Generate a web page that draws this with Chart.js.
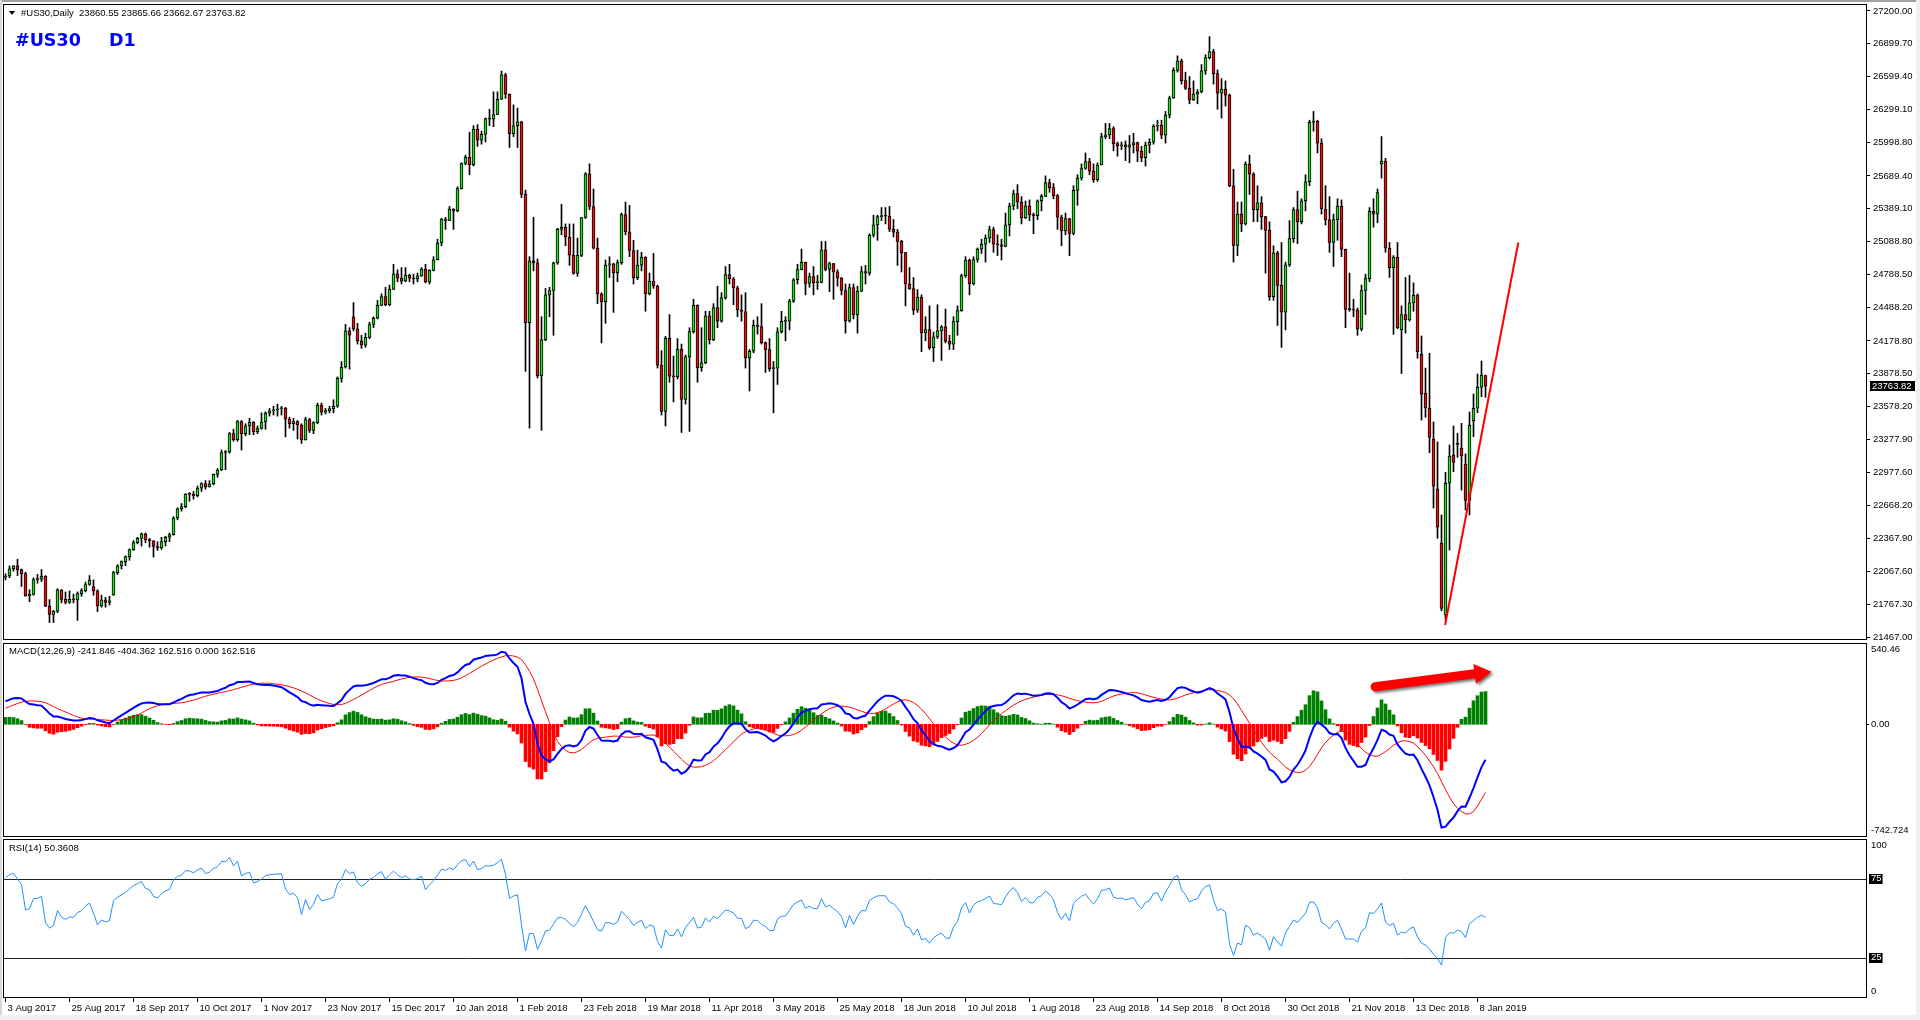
<!DOCTYPE html>
<html><head><meta charset="utf-8">
<script src="https://cdn.jsdelivr.net/npm/chart.js@4.4.1/dist/chart.umd.min.js"></script>
<style>
html,body{margin:0;padding:0;background:#fff;}
#wrap{position:relative;width:1920px;height:1020px;overflow:hidden;background:#fff;}
canvas{position:absolute;left:0;top:0;}
.t{position:absolute;font-family:"Liberation Sans",Arial,sans-serif;font-size:9.5px;line-height:11px;color:#000;white-space:pre;}
.big{position:absolute;font-family:"DejaVu Sans",sans-serif;font-weight:bold;font-size:17.5px;line-height:20px;color:#0000FF;white-space:pre;}
.tri{position:absolute;left:9px;top:11px;width:0;height:0;border-left:3px solid transparent;border-right:3px solid transparent;border-top:4px solid #000;}
.gt{position:absolute;left:0;top:0;width:1920px;height:2px;background:#A0A0A0;}
.gl{position:absolute;left:0;top:0;width:2px;height:1020px;background:#D8D8D8;}
.gb{position:absolute;left:0;top:1015px;width:1920px;height:5px;background:#F0F0F0;}
.gr{position:absolute;left:1916px;top:0;width:4px;height:1020px;background:#F0F0F0;}
</style></head><body><div id="wrap">
<canvas id="cMain" width="1920" height="1020"></canvas>
<canvas id="cMacd" width="1920" height="1020"></canvas>
<canvas id="cRsi" width="1920" height="1020"></canvas>
<div class="gt"></div><div class="gl"></div><div class="gb"></div><div class="gr"></div>
<div class="tri"></div>
<div class="t" style="left:21px;top:7px">#US30,Daily  23860.55 23865.66 23662.67 23763.82</div>
<div class="big" style="left:15px;top:30px">#US30</div>
<div class="big" style="left:109px;top:30px">D1</div>
<div class="t" style="left:9px;top:645px">MACD(12,26,9) -241.846 -404.362 162.516 0.000 162.516</div>
<div class="t" style="left:9px;top:842px">RSI(14) 50.3608</div>
</div>
<script>
// ---------------- DATA ----------------
const tickLabels = ['3 Aug 2017','25 Aug 2017','18 Sep 2017','10 Oct 2017','1 Nov 2017','23 Nov 2017','15 Dec 2017','10 Jan 2018','1 Feb 2018','23 Feb 2018','19 Mar 2018','11 Apr 2018','3 May 2018','25 May 2018','18 Jun 2018','10 Jul 2018','1 Aug 2018','23 Aug 2018','14 Sep 2018','8 Oct 2018','30 Oct 2018','21 Nov 2018','13 Dec 2018','8 Jan 2019'];
const tickEvery = 16;
const priceTicks = [27200.00,26899.70,26599.40,26299.10,25998.80,25689.40,25389.10,25088.80,24788.50,24488.20,24178.80,23878.50,23578.20,23277.90,22977.60,22668.20,22367.90,22067.60,21767.30,21467.00];
const priceMin = 21449, priceMax = 27264;
const macdMin = -742.724, macdMax = 540.46;
const macdAxisLabels = [[macdMax,'540.46'],[0,'0.00'],[macdMin,'-742.724']];
const rsiAxisLabels = [[100,'100'],[75,'75'],[25,'25'],[0,'0']];
const rsiLevels = [75, 25];

const opens = [
22016,22026,22092,22118,22085,22048,21844,21858,21993,21998,
22024,21750,21675,21703,21899,21812,21783,21813,21808,21865,
21892,21948,21930,21890,21753,21807,21784,21850,22057,22118,
22158,22203,22268,22331,22370,22412,22359,22349,22296,22284,
22340,22381,22405,22557,22641,22661,22775,22773,22761,22831,
22872,22841,22871,22957,22997,23157,23163,23329,23274,23441,
23329,23400,23434,23348,23377,23436,23517,23539,23548,23557,
23563,23462,23422,23440,23409,23271,23458,23358,23430,23590,
23526,23540,23558,23580,23836,23940,24272,24400,24290,24180,
24140,24211,24329,24386,24504,24585,24508,24651,24792,24754,
24726,24782,24754,24746,24774,24837,24719,24824,24922,25075,
25295,25283,25385,25369,25574,25803,25860,25792,26116,26017,
26071,26214,26210,26252,26392,26616,26439,26076,26149,26186,
25520,24345,24912,24893,23860,24190,24601,24640,24893,25200,
25219,25130,24964,24797,24962,25309,25709,25410,25029,24608,
24538,24874,24884,24801,24895,25336,25178,25007,24758,24873,
24946,24610,24727,24682,23957,23533,24202,23857,23849,24103,
23644,24033,24264,24505,23933,23979,24408,24189,24483,24360,
24573,24786,24748,24665,24463,24448,24024,24084,24322,24311,
24163,24099,23925,23930,24263,24357,24360,24543,24739,24831,
24899,24706,24768,24713,24715,25013,24834,24886,24811,24753,
24640,24361,24667,24416,24635,24813,24799,25146,25241,25317,
25322,25320,25201,25175,25090,24987,24700,24657,24461,24580,
24252,24283,24117,24216,24271,24307,24174,24150,24356,24456,
24776,24919,24700,24924,25019,25064,25120,25199,25064,25058,
25044,25241,25414,25527,25451,25306,25415,25333,25326,25462,
25502,25628,25583,25509,25313,25187,25299,25162,25558,25669,
25758,25822,25733,25656,25790,26049,26064,26124,25986,25964,
25975,25952,25974,25995,25916,25857,25971,25998,26145,26154,
26062,26246,26405,26656,26743,26562,26492,26385,26439,26458,
26651,26773,26828,26627,26447,26486,26430,25599,25053,25340,
25250,25798,25706,25380,25444,25317,25191,24583,24985,24688,
24443,24875,25116,25381,25271,25462,25636,26181,26191,25989,
25387,25287,25081,25290,25413,25017,24466,24465,24460,24286,
24640,24749,25366,25339,25800,25826,25027,24850,24947,24280,
24420,24370,24527,24597,24056,23700,23562,23280,22824,22328,
21668,22875,23134,23232,23198,23051,22719,23448,23562,23754,
23860.55];
const highs = [
22046,22118,22121,22179,22090,22060,21900,22010,22040,22085,
22030,21810,21710,21910,21900,21880,21890,21860,21880,21910,
21970,22030,21990,21900,21850,21830,21840,22070,22130,22165,
22210,22275,22350,22380,22420,22420,22370,22350,22340,22380,
22390,22420,22570,22650,22690,22780,22790,22800,22850,22880,
22900,22900,22960,23010,23180,23175,23340,23370,23450,23450,
23420,23470,23440,23400,23520,23530,23560,23580,23600,23580,
23570,23480,23470,23450,23420,23480,23470,23440,23610,23610,
23560,23580,23640,23850,23990,24330,24300,24530,24340,24230,
24250,24350,24400,24550,24610,24670,24690,24880,24830,24850,
24850,24790,24790,24800,24850,24880,24830,24950,25110,25300,
25310,25410,25390,25590,25810,25880,26090,26150,26160,26100,
26220,26300,26460,26460,26650,26630,26440,26340,26310,26190,
25560,24950,25310,24930,24400,24660,24670,24900,25210,25430,
25250,25250,25250,25120,25310,25720,25800,25570,25120,24620,
24920,24950,24890,24920,25350,25450,25420,25100,25010,24990,
24950,24800,24980,24690,24090,24220,24420,24040,24200,24150,
24050,24300,24560,24510,24300,24450,24450,24520,24680,24620,
24860,24880,24760,24680,24600,24620,24100,24370,24400,24520,
24170,24200,23990,24300,24450,24400,24560,24750,24880,25020,
24900,24800,24860,24780,25090,25090,24900,24890,24830,24760,
24700,24700,24700,24680,24860,24870,25160,25330,25330,25400,
25400,25410,25290,25200,25100,24990,24850,24760,24650,24600,
24400,24500,24260,24510,24320,24470,24230,24400,24500,24790,
24950,24930,24950,25030,25110,25150,25230,25220,25150,25110,
25350,25440,25560,25610,25500,25460,25470,25350,25470,25520,
25690,25660,25620,25520,25330,25350,25300,25600,25700,25800,
25900,25850,25800,25810,26080,26170,26170,26140,26000,26000,
26010,26060,26080,26000,25960,26000,26030,26160,26200,26200,
26280,26420,26680,26790,26760,26640,26600,26560,26480,26710,
26800,26965,26850,26660,26580,26560,26440,25750,25450,25450,
25820,25880,25720,25600,25500,25320,25270,25050,25000,25080,
24900,25280,25400,25550,25480,25700,26200,26280,26200,26030,
25600,25500,25340,25480,25470,25020,24800,24560,24480,24690,
24790,25400,25480,25570,26050,25850,25080,24960,25080,24500,
24760,24780,24710,24610,24224,23930,24065,23436,23253,22584,
22975,23226,23399,23333,23424,23144,23528,23692,23876,23995,
23865.66];
const lows = [
21990,22010,22071,22030,21930,21840,21790,21850,21960,21975,
21745,21600,21600,21690,21780,21770,21775,21780,21620,21840,
21880,21940,21850,21700,21740,21740,21760,21850,22040,22090,
22120,22170,22260,22320,22300,22330,22290,22200,22260,22270,
22300,22340,22400,22540,22620,22650,22710,22730,22750,22800,
22820,22840,22860,22930,22990,23000,23150,23260,23260,23180,
23310,23320,23320,23330,23370,23370,23490,23500,23490,23500,
23300,23380,23360,23280,23240,23270,23340,23330,23420,23500,
23510,23520,23520,23570,23800,23930,23920,24270,24150,24110,
24120,24200,24300,24380,24500,24500,24500,24650,24720,24700,
24720,24720,24700,24720,24770,24710,24700,24820,24920,25050,
25200,25280,25200,25360,25570,25790,25700,25780,25960,25980,
26000,26150,26140,26250,26390,26400,25950,26050,25950,25490,
23900,23380,24820,23840,23360,24180,24400,24230,24880,25150,
25050,24870,24790,24770,24950,25300,25380,25020,24520,24160,
24340,24760,24440,24720,24880,25150,24950,24700,24740,24820,
24450,24600,24660,23930,23500,23400,23800,23620,23830,23340,
23600,23350,24250,23800,23900,23970,24150,24180,24300,24350,
24560,24700,24510,24400,24360,23930,23720,24070,24240,24150,
23890,23900,23520,23780,24250,24180,24280,24530,24700,24830,
24600,24670,24600,24650,24710,24820,24630,24560,24680,24600,
24250,24350,24380,24250,24630,24700,24780,25130,25100,25280,
25250,25180,25130,24870,24810,24500,24650,24420,24440,24080,
24180,24100,23990,24200,24000,24160,24100,24100,24230,24450,
24760,24600,24690,24900,24980,24900,25080,24990,24960,24920,
25040,25140,25380,25390,25250,25300,25280,25160,25290,25370,
25500,25540,25480,25200,25050,25150,24960,25150,25420,25650,
25750,25700,25630,25640,25790,26030,26030,25920,25870,25930,
25830,25810,25900,25820,25820,25780,25900,25980,26100,26030,
25990,26220,26400,26640,26530,26480,26350,26380,26350,26450,
26620,26760,26530,26300,26220,26330,25590,24900,24960,25180,
25240,25520,25270,25270,25200,24800,24550,24550,24320,24120,
24280,24860,25080,25070,25250,25370,25600,26100,25900,25340,
25240,24990,24860,25100,24950,24300,24450,24400,24230,24270,
24420,24720,25220,25260,25670,24990,24760,24240,24290,23880,
24250,24360,24450,24020,23454,23480,23155,22649,22371,21708,
21630,22264,22981,23113,22813,22631,22584,23301,23521,23668,
23662.67];
const closes = [
22026,22092,22118,22085,22048,21844,21858,21993,21998,22024,
21750,21675,21703,21899,21812,21783,21813,21808,21865,21892,
21948,21988,21890,21753,21807,21784,21798,22057,22118,22158,
22203,22268,22331,22370,22412,22359,22349,22296,22284,22340,
22381,22405,22557,22641,22661,22775,22773,22761,22831,22872,
22841,22871,22957,22997,23157,23163,23329,23274,23441,23329,
23400,23434,23348,23377,23436,23517,23539,23548,23557,23563,
23462,23422,23440,23409,23271,23458,23358,23430,23590,23526,
23540,23558,23580,23836,23940,24272,24231,24290,24180,24140,
24211,24329,24386,24504,24585,24508,24651,24792,24754,24726,
24782,24754,24746,24774,24837,24719,24824,24922,25075,25295,
25283,25385,25369,25574,25803,25860,25792,26116,26017,26071,
26214,26210,26252,26392,26616,26439,26076,26149,26186,25520,
24345,24912,24893,23860,24190,24601,24640,24893,25200,25219,
25130,24964,24797,24962,25309,25709,25410,25029,24608,24538,
24874,24884,24801,24895,25336,25178,25007,24758,24873,24946,
24610,24727,24682,23957,23533,24202,23857,23849,24103,23644,
24033,24264,24505,23933,23979,24408,24189,24483,24360,24573,
24786,24748,24665,24463,24448,24024,24084,24322,24311,24163,
24099,23925,23930,24263,24357,24360,24543,24739,24831,24899,
24706,24768,24713,24715,25013,24834,24886,24811,24753,24640,
24361,24667,24416,24635,24813,24799,25146,25241,25317,25322,
25320,25201,25175,25090,24987,24700,24657,24461,24580,24252,
24283,24117,24216,24271,24307,24174,24150,24356,24456,24776,
24919,24700,24924,25019,25064,25120,25199,25064,25058,25044,
25241,25414,25527,25451,25306,25415,25333,25326,25462,25502,
25628,25583,25509,25313,25187,25299,25162,25558,25669,25758,
25822,25733,25656,25790,26049,26064,26124,25986,25964,25975,
25952,25974,25995,25916,25857,25971,25998,26145,26154,26062,
26246,26405,26656,26743,26562,26492,26385,26439,26458,26651,
26773,26828,26627,26447,26486,26430,25599,25053,25340,25250,
25798,25706,25380,25444,25317,25191,24583,24985,24688,24443,
24875,25116,25381,25271,25462,25636,26181,26191,25989,25387,
25287,25081,25290,25413,25017,24466,24465,24460,24286,24640,
24749,25366,25339,25538,25826,25027,24850,24947,24300,24420,
24370,24527,24597,24080,23690,23564,23296,22849,22472,21730,
22875,23125,23067,23232,23128,22719,23406,23562,23754,23864,
23763.82];
// closes before the visible window, only used to seed the MACD(12,26,9) / RSI(14) indicators
const warmupCloses = [21144,21206,21184,21136,21173,21182,21271,21235,21328,21374,21359,21384,21528,21467,21410,21397,21394,21409,21310,21454,21287,21350,21479,21478,21320,21414,21409,21409,21532,21553,21638,21630,21574,21641,21611,21580,21513,21613,21711,21797,21830,21891,21963,22016];
// manual objects drawn on the chart, in data units [bar index, value]
const trendLine = [[359.9, 21577],[378.2, 25080]];
const macdArrow = [[342.4, 250],[371.5, 350]];

// ---------------- INDICATORS (MT4 definitions) ----------------
function ema(a,n){const k=2/(n+1);const o=[];let p=a[0];for(let i=0;i<a.length;i++){p=i?a[i]*k+p*(1-k):a[0];o.push(p);}return o;}
function sma(a,n){const o=[];let s=0;for(let i=0;i<a.length;i++){s+=a[i];if(i>=n)s-=a[i-n];o.push(s/Math.min(i+1,n));}return o;}
function rsiCalc(a,n){const o=new Array(a.length).fill(null);let g=0,l=0;for(let i=1;i<=n;i++){const d=a[i]-a[i-1];if(d>0)g+=d;else l-=d;}g/=n;l/=n;o[n]=100-100/(1+g/l);
  for(let i=n+1;i<a.length;i++){const d=a[i]-a[i-1];g=(g*(n-1)+Math.max(d,0))/n;l=(l*(n-1)+Math.max(-d,0))/n;o[i]=l===0?100:100-100/(1+g/l);}return o;}
const all = warmupCloses.concat(closes), W = warmupCloses.length;
const e12 = ema(all,12), e26 = ema(all,26);
const macdAll = e12.map((v,i)=>v-e26[i]);
const sigAll = sma(macdAll,9);
const macdMain = macdAll.slice(W), macdSig = sigAll.slice(W);
const macdHist = macdMain.map((v,i)=>v-macdSig[i]);
const rsiVals = rsiCalc(all,14).slice(W);

// ---------------- LAYOUT ----------------
const N = closes.length;
const idx = Array.from({length:N},(_,i)=>i);
const PL = 3, PR = 1866, BARPX = 4;
const xMin = -0.625, xMax = xMin + (PR-PL)/BARPX;
const BULL = '#22DD22', BEAR = '#EE1111';
const FONTF = '"Liberation Sans", Arial, sans-serif';
const tickFont = {family:'Liberation Sans', size:9.5};

const framePlugin = {id:'frame', afterDraw(c){const a=c.chartArea,x=c.ctx;x.save();x.strokeStyle='#000';x.lineWidth=1;x.strokeRect(a.left+0.5,a.top+0.5,a.right-a.left,a.bottom-a.top);x.restore();}};
const pricePlugin = {id:'price', afterDraw(c){const x=c.ctx, y=c.scales.y.getPixelForValue(closes[N-1]);x.save();x.font='9.5px '+FONTF;
  const t=closes[N-1].toFixed(2);x.fillStyle='#000';x.fillRect(1870,Math.round(y)-5,45,10);x.fillStyle='#fff';x.textBaseline='middle';x.fillText(t,1872,Math.round(y));x.restore();}};
function subLabelPlugin(items, boxed, edge){return {id:'sub', afterDraw(c){const x=c.ctx,s=c.scales.y,a=c.chartArea;x.save();x.font='9.5px '+FONTF;x.textBaseline='middle';x.textAlign='left';
  items.forEach(([v,t])=>{let py=s.getPixelForValue(v);if(v===s.max)py+=edge;else if(v===s.min)py-=edge;else if(!boxed.includes(v)){x.fillStyle='#000';x.fillRect(a.right,Math.round(py),3,1);}
    if(boxed.includes(v)){const w=x.measureText(t).width;x.fillStyle='#000';x.fillRect(a.right+3,Math.round(py)-5,w+3,10);x.fillStyle='#fff';}else x.fillStyle='#000';
    x.fillText(t,a.right+5,py);});x.restore();}};}
const levelPlugin = {id:'lev', beforeDatasetsDraw(c){const x=c.ctx,s=c.scales.y,a=c.chartArea;x.save();x.strokeStyle='#222';x.lineWidth=1;
  rsiLevels.forEach(v=>{const py=Math.round(s.getPixelForValue(v))+0.5;x.beginPath();x.moveTo(a.left,py);x.lineTo(a.right,py);x.stroke();});x.restore();}};
const arrowPlugin = {id:'arrow', afterDatasetsDraw(c){const x=c.ctx,sx=c.scales.x,sy=c.scales.y;
  const x0=sx.getPixelForValue(macdArrow[0][0]),y0=sy.getPixelForValue(macdArrow[0][1]),x1=sx.getPixelForValue(macdArrow[1][0]),y1=sy.getPixelForValue(macdArrow[1][1]);
  const L=Math.hypot(x1-x0,y1-y0),ux=(x1-x0)/L,uy=(y1-y0)/L,px=-uy,py=ux,hl=17,hw=10;const bx=x1-ux*hl,by=y1-uy*hl;
  x.save();x.shadowColor='rgba(0,0,0,0.55)';x.shadowBlur=3;x.shadowOffsetX=2;x.shadowOffsetY=2;x.fillStyle='#FF0000';x.strokeStyle='#FF0000';
  x.lineCap='round';x.lineWidth=9;x.beginPath();x.moveTo(x0,y0);x.lineTo(bx+ux*2,by+uy*2);x.stroke();
  x.beginPath();x.moveTo(x1,y1);x.lineTo(bx+px*hw,by+py*hw);x.lineTo(bx-px*hw,by-py*hw);x.closePath();x.fill();x.restore();}};

const common = {responsive:false, animation:false, devicePixelRatio:1, events:[], plugins:{legend:{display:false}, tooltip:{enabled:false}}};
const xHidden = {type:'linear', min:xMin, max:xMax, display:false, offset:false, grid:{offset:false}};

// ---------------- MAIN (candles) ----------------
new Chart(document.getElementById('cMain'), {
  type:'bar',
  data:{datasets:[
    {type:'line', data:trendLine.map(p=>({x:p[0],y:p[1]})), borderColor:'#FF0000', borderWidth:2, pointRadius:0, tension:0, order:-1},
    {data:idx.map(i=>({x:i,y:[opens[i],closes[i]]})), backgroundColor:idx.map(i=>closes[i]>opens[i]?BULL:(closes[i]<opens[i]?BEAR:'#000')),
     borderColor:'#000', borderWidth:1, borderSkipped:false, barThickness:3, minBarLength:1, grouped:false, order:0},
    {data:idx.map(i=>({x:i,y:[lows[i],highs[i]]})), backgroundColor:'#000', borderWidth:0, barThickness:1, minBarLength:1, grouped:false, order:1}
  ]},
  options:{...common, layout:{padding:{left:PL, top:4, right:0, bottom:1020-639}},
    scales:{x:xHidden,
      y:{position:'right', min:priceMin, max:priceMax, beginAtZero:false,
         afterFit(s){s.width=1920-PR; s.paddingTop=0; s.paddingBottom=0;}, afterBuildTicks(s){s.ticks=priceTicks.map(v=>({value:v}));},
         ticks:{autoSkip:false, padding:3, font:tickFont, color:'#000', callback:v=>Number(v).toFixed(2)},
         grid:{drawOnChartArea:false, drawTicks:true, tickLength:4, color:'#000'}, border:{display:false}}}},
  plugins:[framePlugin, pricePlugin]
});

// ---------------- MACD ----------------
new Chart(document.getElementById('cMacd'), {
  type:'bar',
  data:{datasets:[
    {type:'line', data:idx.map(i=>({x:i,y:macdMain[i]})), borderColor:'#0000FF', borderWidth:2, pointRadius:0, tension:0, order:0},
    {type:'line', data:idx.map(i=>({x:i,y:macdSig[i]})), borderColor:'#FF0000', borderWidth:1, pointRadius:0, tension:0, order:1},
    {data:idx.map(i=>({x:i,y:macdHist[i]})), backgroundColor:idx.map(i=>macdHist[i]>=0?'#008000':'#FF0000'), borderWidth:0, barThickness:3, grouped:false, order:2}
  ]},
  options:{...common, layout:{padding:{left:PL, top:643, right:1920-PR, bottom:1020-836}},
    scales:{x:xHidden, y:{min:macdMin, max:macdMax, display:false}}},
  plugins:[framePlugin, subLabelPlugin(macdAxisLabels, [], 6), arrowPlugin]
});

// ---------------- RSI ----------------
new Chart(document.getElementById('cRsi'), {
  type:'line',
  data:{datasets:[{data:idx.map(i=>({x:i,y:rsiVals[i]})), borderColor:'#1E90FF', borderWidth:1, pointRadius:0, tension:0}]},
  options:{...common, layout:{padding:{left:PL, top:839, right:1920-PR, bottom:0}},
    scales:{
      x:{type:'linear', min:xMin, max:xMax, offset:false, position:'bottom',
         afterFit(s){s.height=1020-997; s.paddingLeft=0; s.paddingRight=0;},
         afterBuildTicks(s){s.ticks=tickLabels.map((_,k)=>({value:k*tickEvery}));},
         ticks:{autoSkip:false, maxRotation:0, minRotation:0, align:'start', labelOffset:2, padding:1, font:tickFont, color:'#000',
                callback:(v,i)=>tickLabels[i]},
         grid:{drawOnChartArea:false, drawTicks:true, tickLength:5, color:'#000', offset:false}, border:{display:false}},
      y:{min:0, max:100, display:false}}},
  plugins:[framePlugin, levelPlugin, subLabelPlugin(rsiAxisLabels, rsiLevels, 6)]
});
</script>
</body></html>
